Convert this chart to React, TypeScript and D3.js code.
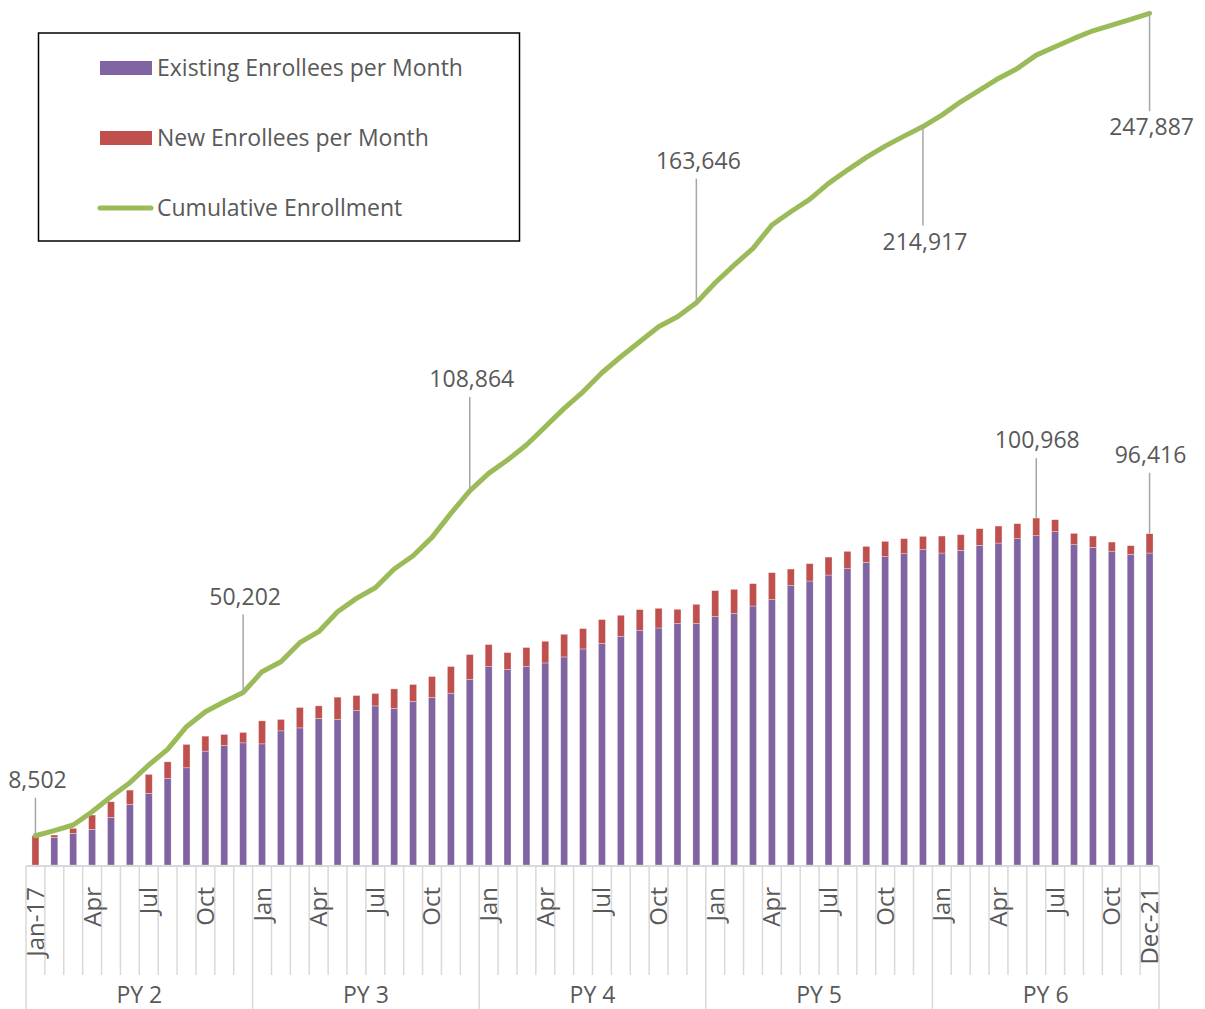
import React from 'react';
import * as d3 from 'd3';

// monthly enrollment, Jan-17 .. Dec-21
const monthNames = ['Jan', 'Feb', 'Mar', 'Apr', 'May', 'Jun', 'Jul', 'Aug', 'Sep', 'Oct', 'Nov', 'Dec'];
const years = ['17', '18', '19', '20', '21'];
const programYears = ['PY 2', 'PY 3', 'PY 4', 'PY 5', 'PY 6'];

const existing = [
  0, 8050, 9215, 10380, 13860, 17640, 20840, 25200, 28290, 33140, 34800, 35550,
  35260, 39040, 39910, 42650, 42350, 44970, 46310, 45550, 47590, 48750, 50000, 53980,
  57760, 56890, 57850, 58810, 60560, 62880, 64450, 66480, 68230, 68980, 70260, 70260,
  72300, 73170, 75380, 77240, 81310, 82650, 84390, 86250, 88080, 89740, 90610, 91770,
  90790, 91570, 93020, 93700, 94970, 95840, 97010, 93220, 92440, 91190, 90410, 90790,
];
const newEnrollees = [
  8502, 670, 1455, 4155, 4540, 4160, 5530, 4830, 6800, 4360, 3200, 3030,
  6690, 3320, 5930, 3660, 6490, 4360, 3600, 5700, 4940, 6110, 7760, 7270,
  6400, 4940, 5440, 6310, 6590, 5930, 6980, 6200, 6100, 5730, 4160, 5610,
  7560, 7060, 6510, 7850, 4820, 5060, 5230, 5030, 4650, 4450, 4360, 3870,
  4940, 4570, 4860, 4940, 4360, 5128, 3490, 3290, 3290, 2800, 2530, 5626,
];
const cumulative = [
  8502, 9980, 11640, 15520, 19880, 23960, 29100, 33660, 40250, 44620, 47530, 50202,
  56260, 59170, 64700, 67900, 73720, 77600, 80700, 86140, 90010, 95350, 102340, 108864,
  113980, 117860, 122220, 127550, 132900, 137730, 143260, 147920, 152280, 156650, 159560, 163646,
  169450, 174600, 179460, 186240, 190110, 193710, 198370, 202250, 205940, 209230, 212140, 214917,
  218250, 222130, 225530, 228920, 231830, 235710, 238140, 240560, 242790, 244440, 246090, 247887,
];

// which points carry a data label, and where the label sits (px offset from the point)
const lineLabels = [
  { i: 0, dy: -56 }, { i: 11, dy: -96 }, { i: 23, dy: -112 },
  { i: 35, dy: -142 }, { i: 47, dy: 115 }, { i: 59, dy: 114 },
];
const barLabels = [{ i: 53, dy: -78 }, { i: 59, dy: -79 }];

const categories = years.flatMap(y => monthNames.map(m => `${m}-${y}`));
const tickText = (i) => {
  if (i === 0) return 'Jan-17';
  if (i === categories.length - 1) return 'Dec-21';
  return i % 3 === 0 ? monthNames[i % 12] : '';
};

const W = 1205, H = 1009;
const PURPLE = '#8064A2', RED = '#C0504D', GREEN = '#9BBB59', TXT = '#595959', GRID = '#D9D9D9';
const FONT = '"Open Sans", "Noto Sans", sans-serif';

export default function App() {
  const x = d3.scaleBand().domain(categories).range([26, 1159]).paddingInner(0.63).paddingOuter(0.315);
  const y = d3.scaleLinear().domain([0, 250000]).range([865, 6]);
  const step = x.step();
  const cx = (i) => x(categories[i]) + x.bandwidth() / 2;
  const fmt = d3.format(',');

  const line = d3.line().x((d, i) => cx(i)).y(d => y(d)).curve(d3.curveLinear);
  const totals = existing.map((v, i) => v + newEnrollees[i]);
  const x0 = 26, axisY = 866;

  return (
    <div style={{ position: 'absolute', left: 0, top: 0 }}>
      <svg width={W} height={H} style={{ display: 'block', fontFamily: FONT }}>
        <rect width={W} height={H} fill="#fff" />

        {/* stacked bars */}
        {categories.map((c, i) => (
          <g key={c}>
            {existing[i] > 0 && (
              <rect x={x(c)} width={x.bandwidth()} y={y(existing[i])} height={y(0) - y(existing[i])}
                fill={PURPLE} stroke="#fff" strokeOpacity={0.5} strokeWidth={0.6} />
            )}
            <rect x={x(c)} width={x.bandwidth()} y={y(totals[i])} height={y(existing[i]) - y(totals[i])}
              fill={RED} stroke="#fff" strokeOpacity={0.5} strokeWidth={0.6} />
          </g>
        ))}

        {/* cumulative line */}
        <path d={line(cumulative)} fill="none" stroke={GREEN} strokeWidth={5} strokeLinejoin="round" strokeLinecap="round" />

        {/* axis */}
        <line x1={x0} x2={x0 + step * 60} y1={axisY} y2={axisY} stroke={GRID} strokeWidth={2} />
        {d3.range(61).map(k => (
          <line key={'t' + k} x1={x0 + k * step} x2={x0 + k * step} y1={axisY} y2={k % 12 === 0 ? H : 975}
            stroke={GRID} strokeWidth={1.5} />
        ))}
        {categories.map((c, i) => tickText(i) && (
          <text key={'l' + c} transform={`translate(${cx(i) + 8.5},887) rotate(-90)`} textAnchor="end"
            fontSize={24} fill={TXT}>{tickText(i)}</text>
        ))}
        {programYears.map((p, k) => (
          <text key={p} x={x0 + (k * 12 + 6) * step} y={1003} textAnchor="middle" fontSize={23} fill={TXT}>{p}</text>
        ))}

        {/* data labels */}
        {lineLabels.map(({ i, dy }) => {
          const px = cx(i), py = y(cumulative[i]);
          const ty = py + dy;
          const edge = dy < 0 ? ty + 18 : ty - 16;
          return (
            <g key={'cl' + i}>
              <line x1={px} x2={px} y1={py} y2={edge} stroke="#A6A6A6" strokeWidth={1.5} />
              <text x={px + 2} y={ty + 8} textAnchor="middle" fontSize={23} fill={TXT}>{fmt(cumulative[i])}</text>
            </g>
          );
        })}
        {barLabels.map(({ i, dy }) => {
          const px = cx(i), py = y(totals[i]);
          const ty = py + dy;
          return (
            <g key={'bl' + i}>
              <line x1={px} x2={px} y1={py} y2={ty + 18} stroke="#A6A6A6" strokeWidth={1.5} />
              <text x={px + 1} y={ty + 8} textAnchor="middle" fontSize={23} fill={TXT}>{fmt(totals[i])}</text>
            </g>
          );
        })}

        {/* legend */}
        <rect x={38.5} y={33} width={481} height={208} fill="#fff" stroke="#000" strokeWidth={1.5} />
        <rect x={100} y={61} width={52} height={14} fill={PURPLE} />
        <text x={157} y={76} fontSize={23} fill={TXT}>Existing Enrollees per Month</text>
        <rect x={100} y={131} width={52} height={14} fill={RED} />
        <text x={157} y={146} fontSize={23} fill={TXT}>New Enrollees per Month</text>
        <line x1={100} x2={151} y1={208} y2={208} stroke={GREEN} strokeWidth={5} strokeLinecap="round" />
        <text x={157} y={216} fontSize={23} fill={TXT}>Cumulative Enrollment</text>
      </svg>
    </div>
  );
}
